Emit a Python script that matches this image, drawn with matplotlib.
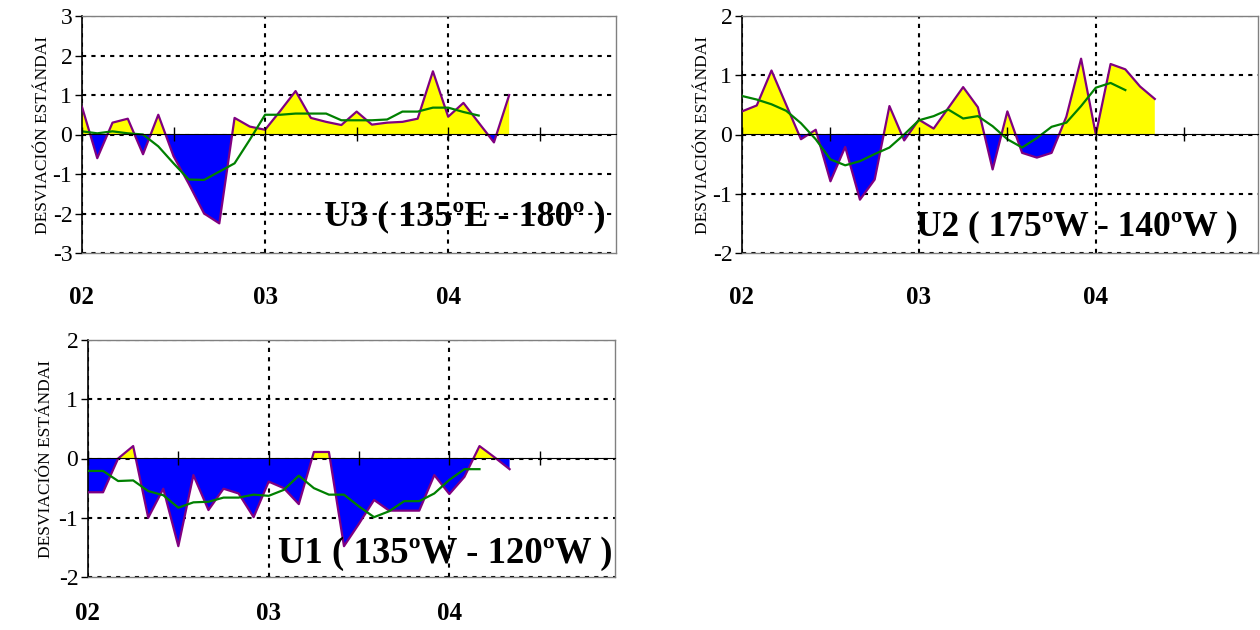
import numpy as np
import matplotlib
matplotlib.use("Agg")
import matplotlib.pyplot as plt

plt.rcParams['font.family'] = ['Liberation Serif', 'DejaVu Serif']

# monthly index, Jan 2002 = 0
year_labels = ['02', '03', '04']
ylabel = 'DESVIACIÓN ESTÁNDAI'

# U3 (135ºE - 180º)
u3_vals = [0.7, -0.6, 0.3, 0.4, -0.5, 0.5, -0.55, -1.25, -2.0, -2.25, 0.42, 0.2, 0.12, 0.6,
           1.1, 0.42, 0.32, 0.24, 0.58, 0.25, 0.3, 0.32, 0.4, 1.6, 0.45, 0.8, 0.3, -0.2, 1.0]
u3_mean = [0.08, 0.03, 0.08, 0.03, 0.0, -0.3, -0.73, -1.14, -1.15, -0.94, -0.73, -0.13, 0.5, 0.5,
           0.53, 0.53, 0.53, 0.36, 0.36, 0.36, 0.38, 0.58, 0.58, 0.68, 0.68, 0.57, 0.48]

# U2 (175ºW - 140ºW)
u2_vals = [0.39, 0.49, 1.08, 0.5, -0.08, 0.08, -0.79, -0.21, -1.1, -0.76, 0.48, -0.1, 0.25, 0.1,
           0.45, 0.8, 0.46, -0.59, 0.39, -0.31, -0.39, -0.31, 0.3, 1.28, 0.0, 1.19, 1.1, 0.81, 0.6]
u2_mean = [0.65, 0.59, 0.51, 0.4, 0.19, -0.08, -0.42, -0.52, -0.45, -0.33, -0.22, 0.0, 0.24, 0.31,
           0.42, 0.27, 0.31, 0.14, -0.08, -0.22, -0.06, 0.13, 0.2, 0.48, 0.79, 0.87, 0.75]

# U1 (135ºW - 120ºW)
u1_vals = [-0.57, -0.57, 0.0, 0.21, -1.0, -0.51, -1.48, -0.28, -0.87, -0.51, -0.59, -0.99, -0.39, -0.5,
           -0.77, 0.11, 0.11, -1.48, -1.1, -0.7, -0.88, -0.88, -0.88, -0.28, -0.6, -0.31, 0.21, 0.02, -0.18]
u1_mean = [-0.21, -0.21, -0.38, -0.37, -0.55, -0.62, -0.83, -0.74, -0.73, -0.66, -0.66, -0.61, -0.63, -0.53,
           -0.29, -0.5, -0.61, -0.61, -0.81, -0.99, -0.89, -0.72, -0.72, -0.59, -0.36, -0.18, -0.18]

# values, mean, ylim, title, box (px: l, t, r, b), title size, title pos, ylabel x, xlabel pad
panels = [
    (u3_vals, u3_mean, (-3, 3), 'U3 ( 135ºE - 180º )', [82, 16, 616, 253], 26, (0.98, 0.152), -0.058, 24),
    (u2_vals, u2_mean, (-2, 2), 'U2 ( 175ºW - 140ºW )', [742, 16, 1258, 253], 25.5, (0.96, 0.112), -0.06, 24),
    (u1_vals, u1_mean, (-2, 2), 'U1 ( 135ºW - 120ºW )', [88, 340, 615, 577], 26.5, (0.995, 0.10), -0.065, 18),
]

W, H = 1260, 630
fig = plt.figure(figsize=(W / 100, H / 100), dpi=100)

for vals, mean, ylim, title, box, tsize, tpos, labx, xpad in panels:
    l, t, r, b = box
    ax = fig.add_axes([l / W, 1 - b / H, (r - l) / W, (b - t) / H])
    v = np.array(vals)
    x = np.arange(len(v))
    xm = np.arange(len(mean))

    ax.fill_between(x, v, 0, where=v >= 0, interpolate=True, color='#FFFF00', lw=0, zorder=2)
    ax.fill_between(x, v, 0, where=v <= 0, interpolate=True, color='#0000FF', lw=0, zorder=2)
    ax.plot(x, v, color='#800080', lw=1.6, zorder=3)
    ax.plot(xm, mean, color='#008000', lw=1.6, zorder=4)

    ax.set_xlim(0, 35)
    ax.set_ylim(*ylim)
    ax.set_yticks(np.arange(ylim[0], ylim[1] + 1))
    ax.set_yticklabels([str(k) for k in range(ylim[0], ylim[1] + 1)])
    ax.tick_params(axis='y', labelsize=17, length=5, width=1, color='black', pad=2)

    ax.set_xticks([0, 12, 24])
    ax.set_xticklabels(year_labels, fontweight='bold', fontsize=18)
    ax.tick_params(axis='x', length=0, pad=xpad)

    ax.grid(True, color='black', linestyle=(0, (2, 2.5)), linewidth=1.5, zorder=1)
    ax.set_axisbelow(True)

    for s in ['top', 'right', 'bottom']:
        ax.spines[s].set_color('#808080')
        ax.spines[s].set_linewidth(1)
    ax.spines['left'].set_color('black')
    ax.spines['left'].set_linewidth(1.2)

    # category axis crossing at zero
    zero = ax.secondary_xaxis(0.5)
    zero.set_xticks([0, 6, 12, 18, 24, 30])
    zero.set_xticklabels([])
    zero.tick_params(direction='inout', length=10, width=1, color='black')
    zero.spines['bottom'].set_color('#808080')
    zero.spines['bottom'].set_linewidth(1.5)
    zero.set_zorder(5)

    ax.set_ylabel(ylabel, fontsize=12.5)
    ax.yaxis.set_label_coords(labx, 0.5)

    ax.text(tpos[0], tpos[1], title, transform=ax.transAxes, ha='right', va='center',
            fontsize=tsize, fontweight='bold', zorder=6)

fig.savefig('out.png', dpi=100)
